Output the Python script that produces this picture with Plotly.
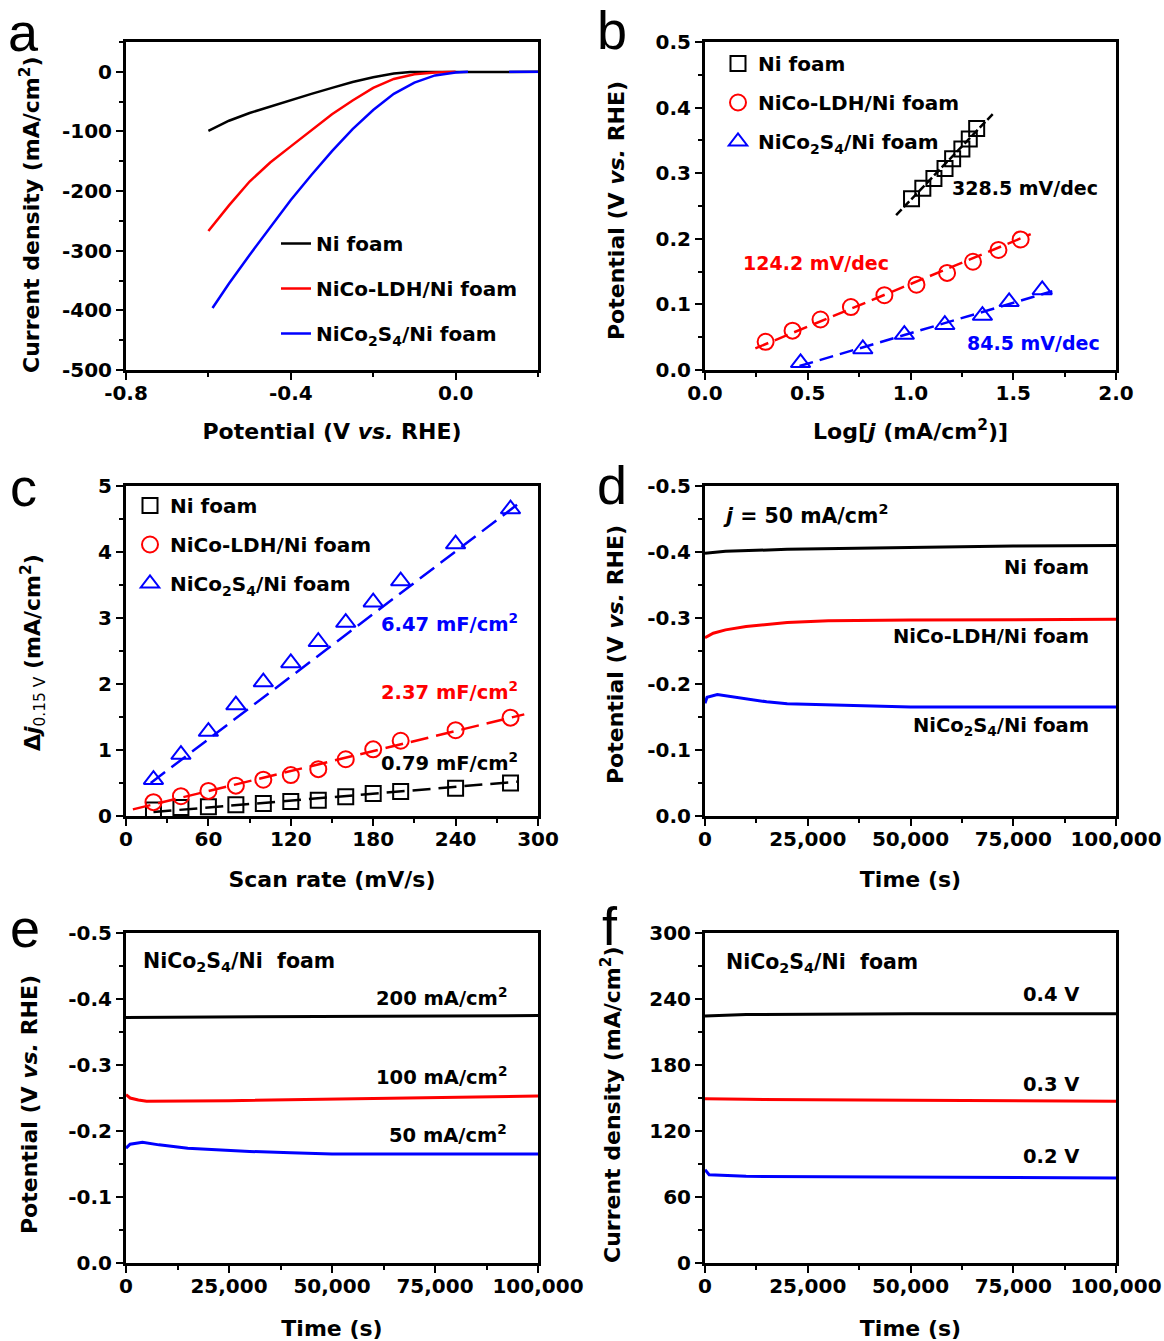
import plotly.graph_objects as go

FONT = "DejaVu Sans, Verdana, sans-serif"
LETTER_FONT = "Liberation Sans, Arial, sans-serif"
BLACK, RED, BLUE = "#000000", "#ff0000", "#0000ff"
NAMES = ["Ni foam", "NiCo-LDH/Ni foam", "NiCo<sub>2</sub>S<sub>4</sub>/Ni foam"]

# ---------------- panel a : LSV curves ----------------
a_ni_x = [-0.60, -0.575, -0.55, -0.50, -0.45, -0.40, -0.35, -0.30, -0.25, -0.20, -0.15, -0.11, 0.0, 0.20]
a_ni_y = [-99, -90, -82, -69, -58, -48, -37, -27, -17, -9, -3, -0.5, 0, 0]
a_ldh_x = [-0.60, -0.55, -0.50, -0.45, -0.40, -0.35, -0.30, -0.25, -0.20, -0.15, -0.10, -0.05, 0.0]
a_ldh_y = [-267, -224, -184, -152, -125, -98, -71, -48, -27, -12, -4, -1, 0]
a_ncs_x = [-0.59, -0.55, -0.50, -0.45, -0.40, -0.35, -0.30, -0.25, -0.20, -0.15, -0.10, -0.05, 0.0, 0.03, None, 0.13, 0.20]
a_ncs_y = [-396, -355, -307, -262, -215, -173, -133, -96, -64, -37, -18, -6, -1, 0, None, 0, 0]
a_xticks = [-0.8, -0.4, 0.0]
a_xticktext = ["-0.8", "-0.4", "0.0"]
a_yticks = [0, -100, -200, -300, -400, -500]
a_yticktext = ["0", "-100", "-200", "-300", "-400", "-500"]

# ---------------- panel b : Tafel ----------------
b_ni_x = [1.005, 1.06, 1.114, 1.168, 1.205, 1.25, 1.286, 1.322]
b_ni_y = [0.261, 0.277, 0.292, 0.307, 0.322, 0.337, 0.352, 0.368]
b_ni_fit_x = [0.93, 1.40]
b_ni_fit_y = [0.236, 0.390]
b_ldh_x = [0.295, 0.426, 0.562, 0.710, 0.873, 1.029, 1.178, 1.304, 1.428, 1.536]
b_ldh_y = [0.043, 0.060, 0.077, 0.096, 0.114, 0.130, 0.148, 0.165, 0.183, 0.199]
b_ldh_fit_x = [0.245, 1.585]
b_ldh_fit_y = [0.033, 0.207]
b_ncs_x = [0.465, 0.768, 0.970, 1.167, 1.350, 1.480, 1.641]
b_ncs_y = [0.011, 0.032, 0.054, 0.069, 0.083, 0.104, 0.122]
b_ncs_fit_x = [0.46, 1.69]
b_ncs_fit_y = [0.006, 0.120]
b_xticks = [0.0, 0.5, 1.0, 1.5, 2.0]
b_xticktext = ["0.0", "0.5", "1.0", "1.5", "2.0"]
b_yticks = [0.0, 0.1, 0.2, 0.3, 0.4, 0.5]
b_yticktext = ["0.0", "0.1", "0.2", "0.3", "0.4", "0.5"]
b_slopes = ["328.5 mV/dec", "124.2 mV/dec", "84.5 mV/dec"]

# ---------------- panel c : double-layer capacitance ----------------
c_rate = [20, 40, 60, 80, 100, 120, 140, 160, 180, 200, 240, 280]
c_ni = [0.09, 0.13, 0.14, 0.17, 0.19, 0.22, 0.24, 0.29, 0.34, 0.37, 0.42, 0.50]
c_ldh = [0.21, 0.30, 0.38, 0.46, 0.55, 0.62, 0.71, 0.86, 1.01, 1.14, 1.30, 1.49]
c_ncs = [0.55, 0.93, 1.28, 1.68, 2.03, 2.32, 2.64, 2.93, 3.24, 3.56, 4.12, 4.65]
c_ni_fit_x = [20, 285]
c_ni_fit_y = [0.06, 0.52]
c_ldh_fit_x = [5, 290]
c_ldh_fit_y = [0.10, 1.54]
c_ncs_fit_x = [18, 285]
c_ncs_fit_y = [0.50, 4.72]
c_xticks = [0, 60, 120, 180, 240, 300]
c_yticks = [0, 1, 2, 3, 4, 5]
c_caps = ["6.47 mF/cm<sup>2</sup>", "2.37 mF/cm<sup>2</sup>", "0.79 mF/cm<sup>2</sup>"]

# ---------------- panel d : chronopotentiometry at 50 mA/cm2 ----------------
d_ni_t = [0, 5000, 20000, 50000, 75000, 100000]
d_ni_v = [-0.398, -0.401, -0.404, -0.407, -0.409, -0.410]
d_ldh_t = [0, 2000, 5000, 10000, 20000, 30000, 50000, 75000, 100000]
d_ldh_v = [-0.270, -0.277, -0.282, -0.287, -0.293, -0.296, -0.297, -0.298, -0.298]
d_ncs_t = [0, 500, 3000, 6000, 10000, 15000, 20000, 30000, 40000, 50000, 75000, 100000]
d_ncs_v = [-0.171, -0.180, -0.184, -0.181, -0.177, -0.173, -0.170, -0.168, -0.166, -0.165, -0.165, -0.165]
t_ticks = [0, 25000, 50000, 75000, 100000]
t_ticktext = ["0", "25,000", "50,000", "75,000", "100,000"]
v_ticks = [0.0, -0.1, -0.2, -0.3, -0.4, -0.5]
v_ticktext = ["0.0", "-0.1", "-0.2", "-0.3", "-0.4", "-0.5"]

# ---------------- panel e : NiCo2S4 at several current densities ----------------
e_200_t = [0, 25000, 50000, 75000, 100000]
e_200_v = [-0.372, -0.373, -0.374, -0.375, -0.375]
e_100_t = [0, 1000, 3000, 5000, 25000, 50000, 75000, 100000]
e_100_v = [-0.255, -0.250, -0.247, -0.245, -0.246, -0.248, -0.251, -0.253]
e_50_t = [0, 1000, 4000, 8000, 15000, 20000, 30000, 40000, 50000, 100000]
e_50_v = [-0.174, -0.180, -0.183, -0.179, -0.174, -0.172, -0.169, -0.167, -0.165, -0.165]
e_labels = ["200 mA/cm<sup>2</sup>", "100 mA/cm<sup>2</sup>", "50 mA/cm<sup>2</sup>"]

# ---------------- panel f : chronoamperometry ----------------
f_04_t = [0, 10000, 50000, 100000]
f_04_j = [224.5, 225.8, 226.5, 226.7]
f_03_t = [0, 10000, 50000, 100000]
f_03_j = [149.4, 148.8, 148.0, 147.0]
f_02_t = [0, 1000, 10000, 50000, 100000]
f_02_j = [84.8, 80.3, 78.8, 78.2, 77.3]
f_yticks = [0, 60, 120, 180, 240, 300]
f_labels = ["0.4 V", "0.3 V", "0.2 V"]

# ---------------- layout geometry (paper fractions) ----------------
W, H = 1164, 1341
col_x = [(126 / W, 538 / W), (705 / W, 1116 / W)]
row_y = [(1 - 370 / H, 1 - 42 / H), (1 - 816 / H, 1 - 486 / H), (1 - 1263 / H, 1 - 933 / H)]

fig = go.Figure()


def tfont(size=20, color=BLACK, bold=True, family=FONT):
    return dict(family=family, size=size, color=color, weight="bold" if bold else "normal")


def axis(domain, rng, tickvals, ticktext, minor_dtick, minor_tick0, title, anchor, standoff, is_x):
    d = dict(domain=domain, range=rng, anchor=anchor, showline=True, mirror=True,
             linewidth=3, linecolor=BLACK, ticks="outside", ticklen=7, tickwidth=2,
             tickcolor=BLACK, showgrid=False, zeroline=False, tickmode="array",
             automargin=False, tickvals=tickvals, ticktext=ticktext, tickfont=tfont(20),
             minor=dict(ticks="outside", ticklen=4, tickwidth=2, tickcolor=BLACK,
                        dtick=minor_dtick, tick0=minor_tick0, showgrid=False),
             title=dict(text=title, font=tfont(22), standoff=standoff))
    if is_x:
        d["ticklabelstandoff"] = -4
    return d


POT = "Potential (V <i>vs.</i> RHE)"
CD = "Current density (mA/cm<sup>2</sup>)"
DJ = "Δ<i>j</i><sub><span style='font-weight:normal'>0.15 V</span></sub> (mA/cm<sup>2</sup>)"
TIME = "Time (s)"

layout = dict(
    xaxis=axis(col_x[0], [-0.8, 0.2], a_xticks, a_xticktext, 0.2, -0.8, POT, "y", 20, True),
    yaxis=axis(row_y[0], [-500, 50], a_yticks, a_yticktext, 50, 0, "", "x", 13, False),
    xaxis2=axis(col_x[1], [0, 2], b_xticks, b_xticktext, 0.25, 0, "Log[<i>j</i> (mA/cm<sup>2</sup>)]", "y2", 20, True),
    yaxis2=axis(row_y[0], [0, 0.5], b_yticks, b_yticktext, 0.05, 0, "", "x2", 22, False),
    xaxis3=axis(col_x[0], [0, 300], c_xticks, [str(v) for v in c_xticks], 30, 0, "Scan rate (mV/s)", "y3", 22, True),
    yaxis3=axis(row_y[1], [0, 5], c_yticks, [str(v) for v in c_yticks], 0.5, 0, "", "x3", 46, False),
    xaxis4=axis(col_x[1], [0, 100000], t_ticks, t_ticktext, 12500, 0, TIME, "y4", 22, True),
    yaxis4=axis(row_y[1], [0, -0.5], v_ticks, v_ticktext, 0.05, 0, "", "x4", 16, False),
    xaxis5=axis(col_x[0], [0, 100000], t_ticks, t_ticktext, 12500, 0, TIME, "y5", 26, True),
    yaxis5=axis(row_y[2], [0, -0.5], v_ticks, v_ticktext, 0.05, 0, "", "x5", 22, False),
    xaxis6=axis(col_x[1], [0, 100000], t_ticks, t_ticktext, 12500, 0, TIME, "y6", 26, True),
    yaxis6=axis(row_y[2], [0, 300], f_yticks, [str(v) for v in f_yticks], 30, 0, "", "x6", 21, False),
)

colors = [BLACK, RED, BLUE]

# panel a traces
for i, (x, y) in enumerate([(a_ni_x, a_ni_y), (a_ldh_x, a_ldh_y), (a_ncs_x, a_ncs_y)]):
    fig.add_trace(go.Scatter(x=x, y=y, mode="lines", name=NAMES[i], line=dict(color=colors[i], width=2.5),
                             xaxis="x", yaxis="y", legend="legend", legendgroup="a%d" % i, connectgaps=False))

# panel b traces
symbols = ["square-open", "circle-open", "triangle-up-open"]
sizes = [15, 16, 17]
b_sets = [(b_ni_x, b_ni_y, b_ni_fit_x, b_ni_fit_y), (b_ldh_x, b_ldh_y, b_ldh_fit_x, b_ldh_fit_y),
          (b_ncs_x, b_ncs_y, b_ncs_fit_x, b_ncs_fit_y)]
for i, (x, y, fx, fy) in enumerate(b_sets):
    fig.add_trace(go.Scatter(x=fx, y=fy, mode="lines", showlegend=False,
                             line=dict(color=colors[i], width=2.5, dash="14px,7px" if i else "8px,3px"),
                             xaxis="x2", yaxis="y2"))
    fig.add_trace(go.Scatter(x=x, y=y, mode="markers", name=NAMES[i],
                             marker=dict(symbol=symbols[i], size=sizes[i], color=colors[i], line=dict(width=2)),
                             xaxis="x2", yaxis="y2", legend="legend2", legendgroup="b%d" % i))

# panel c traces
c_sets = [(c_ni, c_ni_fit_x, c_ni_fit_y), (c_ldh, c_ldh_fit_x, c_ldh_fit_y), (c_ncs, c_ncs_fit_x, c_ncs_fit_y)]
for i, (y, fx, fy) in enumerate(c_sets):
    fig.add_trace(go.Scatter(x=fx, y=fy, mode="lines", showlegend=False,
                             line=dict(color=colors[i], width=2.5, dash="18px,8px"),
                             xaxis="x3", yaxis="y3"))
    fig.add_trace(go.Scatter(x=c_rate, y=y, mode="markers", name=NAMES[i],
                             marker=dict(symbol=symbols[i], size=sizes[i], color=colors[i], line=dict(width=2)),
                             xaxis="x3", yaxis="y3", legend="legend3", legendgroup="c%d" % i))

# panel d
for i, (t, v) in enumerate([(d_ni_t, d_ni_v), (d_ldh_t, d_ldh_v), (d_ncs_t, d_ncs_v)]):
    fig.add_trace(go.Scatter(x=t, y=v, mode="lines", showlegend=False, line=dict(color=colors[i], width=3),
                             xaxis="x4", yaxis="y4"))
# panel e
for i, (t, v) in enumerate([(e_200_t, e_200_v), (e_100_t, e_100_v), (e_50_t, e_50_v)]):
    fig.add_trace(go.Scatter(x=t, y=v, mode="lines", showlegend=False, line=dict(color=colors[i], width=3),
                             xaxis="x5", yaxis="y5"))
# panel f
for i, (t, v) in enumerate([(f_04_t, f_04_j), (f_03_t, f_03_j), (f_02_t, f_02_j)]):
    fig.add_trace(go.Scatter(x=t, y=v, mode="lines", showlegend=False, line=dict(color=colors[i], width=3),
                             xaxis="x6", yaxis="y6"))

ann = []


def note(text, x, y, xref, yref, color=BLACK, xanchor="left", size=19.5, bold=True, family=FONT, angle=0):
    ann.append(dict(text=text, x=x, y=y, xref=xref, yref=yref, showarrow=False, xanchor=xanchor,
                    yanchor="middle", textangle=angle, font=tfont(size, color, bold, family)))


# panel letters
for letter, px, py in [("a", 6, 32), ("b", 595, 30), ("c", 8, 487), ("d", 595, 485), ("e", 8, 928), ("f", 600, 926)]:
    note(letter, px / W, 1 - py / H, "paper", "paper", size=54, bold=False, family=LETTER_FONT)

# y-axis titles (rotated)
for text, px, py in [(CD, 30, 215), (POT, 616, 211), (DJ, 33, 653), (POT, 615, 655), (POT, 29, 1105), (CD, 611, 1105)]:
    note(text, px / W, 1 - py / H, "paper", "paper", xanchor="center", size=22, angle=-90)

HEAD = NAMES[2].replace("/Ni foam", "/Ni&nbsp; foam")

# panel b slopes
note(b_slopes[0], 1.19, 0.277, "x2", "y2", BLACK, size=19)
note(b_slopes[1], 0.175, 0.163, "x2", "y2", RED, size=19)
note(b_slopes[2], 1.265, 0.041, "x2", "y2", BLUE, size=19)
# panel c capacitances
note(c_caps[0], 287, 2.92, "x3", "y3", BLUE, "right")
note(c_caps[1], 287, 1.89, "x3", "y3", RED, "right")
note(c_caps[2], 287, 0.82, "x3", "y3", BLACK, "right")
# panel d
note("<i>j</i> = 50 mA/cm<sup>2</sup>", 4000, -0.457, "x4", "y4", size=20.5)
note(NAMES[0], 94000, -0.376, "x4", "y4", xanchor="right")
note(NAMES[1], 94000, -0.272, "x4", "y4", xanchor="right")
note(NAMES[2], 94000, -0.136, "x4", "y4", xanchor="right")
# panel e
note(HEAD, 3600, -0.456, "x5", "y5", size=20.5)
note(e_labels[0], 93000, -0.403, "x5", "y5", xanchor="right")
note(e_labels[1], 93000, -0.284, "x5", "y5", xanchor="right")
note(e_labels[2], 93000, -0.195, "x5", "y5", xanchor="right")
# panel f
note(HEAD, 4500, 273, "x6", "y6", size=20.5)
note(f_labels[0], 91500, 244.5, "x6", "y6", xanchor="right")
note(f_labels[1], 91500, 162.7, "x6", "y6", xanchor="right")
note(f_labels[2], 91500, 97, "x6", "y6", xanchor="right")


def leg(x, y, gap):
    return dict(x=x, y=y, xanchor="left", yanchor="top", bgcolor="rgba(0,0,0,0)", borderwidth=0,
                font=tfont(20), tracegroupgap=gap, itemsizing="trace")


fig.update_layout(
    **layout,
    template="none",
    width=W, height=H, margin=dict(l=0, r=0, t=0, b=0, autoexpand=False),
    paper_bgcolor="white", plot_bgcolor="white",
    font=dict(family=FONT, color=BLACK),
    annotations=ann,
    legend=leg(276 / W, 1 - 224 / H, 16),
    legend2=leg(718 / W, 1 - 44 / H, 10),
    legend3=leg(130 / W, 1 - 486 / H, 10),
)

fig.write_html("out.html", config={"displayModeBar": False},
               post_script="document.body.style.margin='0';")
